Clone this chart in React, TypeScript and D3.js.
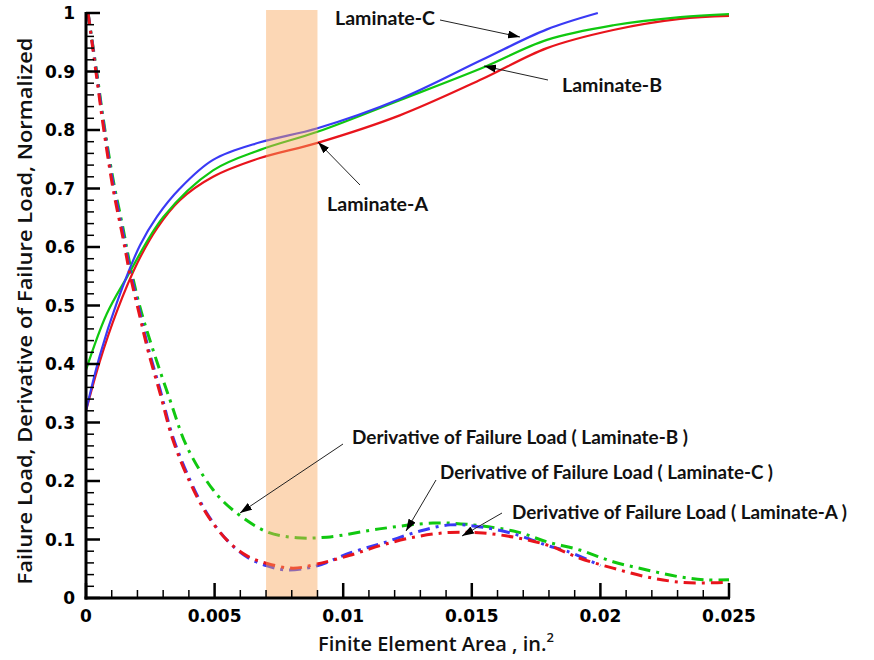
import React from 'react';
import * as d3 from 'd3';

// failure load, normalized (solid)
const failureA: [number, number][] = [
  [0, 0.32], [0.00054, 0.405], [0.0012, 0.49], [0.002, 0.573], [0.00276, 0.632], [0.00365, 0.68],
  [0.00494, 0.72], [0.00677, 0.752], [0.009, 0.778], [0.0122, 0.825],
  [0.0154, 0.887], [0.01792, 0.94], [0.0205, 0.971], [0.0231, 0.99], [0.025, 0.995],
];
const failureB: [number, number][] = [
  [0, 0.39], [0.0008, 0.485], [0.0016, 0.549], [0.003, 0.651], [0.00494, 0.731], [0.00677, 0.766],
  [0.009, 0.797], [0.0122, 0.851], [0.0154, 0.906],
  [0.01792, 0.954], [0.0205, 0.979], [0.0231, 0.993], [0.025, 0.998],
];
const failureC: [number, number][] = [
  [0, 0.32], [0.00054, 0.415], [0.0012, 0.505], [0.0021, 0.603], [0.00276, 0.652],
  [0.00365, 0.7], [0.00494, 0.749], [0.00677, 0.779], [0.009, 0.803],
  [0.0122, 0.853], [0.0154, 0.92], [0.01792, 0.972], [0.0199, 1.0],
];

// derivative of failure load (dash-dot)
const derivA: [number, number][] = [
  [0.00008, 1.0], [0.00043, 0.885], [0.00066, 0.81], [0.00105, 0.7], [0.00144, 0.615], [0.00171, 0.553],
  [0.0021, 0.48], [0.00241, 0.423], [0.00288, 0.35], [0.00338, 0.27], [0.00404, 0.198], [0.0047, 0.143],
  [0.00548, 0.099], [0.00626, 0.072], [0.00704, 0.059], [0.00805, 0.051], [0.00898, 0.058],
  [0.01026, 0.073], [0.01155, 0.091], [0.01287, 0.105], [0.01415, 0.112], [0.01544, 0.111],
  [0.01676, 0.103], [0.01804, 0.089], [0.0192, 0.068], [0.02049, 0.051], [0.02181, 0.036],
  [0.0231, 0.027], [0.02438, 0.026], [0.025, 0.027],
];
const derivB: [number, number][] = [
  [0.00008, 1.0], [0.00043, 0.895], [0.00066, 0.822], [0.00105, 0.716], [0.00144, 0.632], [0.00171, 0.57],
  [0.0021, 0.497], [0.00257, 0.429], [0.00327, 0.338], [0.00393, 0.258], [0.00494, 0.185],
  [0.00572, 0.15], [0.00704, 0.113], [0.0082, 0.103], [0.00937, 0.104], [0.01155, 0.119],
  [0.01349, 0.128], [0.01481, 0.126], [0.01676, 0.113], [0.01792, 0.096], [0.0192, 0.082],
  [0.02049, 0.062], [0.02181, 0.048], [0.0231, 0.036], [0.02414, 0.031], [0.025, 0.031],
];
const derivC: [number, number][] = [
  [0.00008, 1.0], [0.00043, 0.891], [0.00066, 0.817], [0.00105, 0.709], [0.00144, 0.624], [0.00171, 0.561],
  [0.0021, 0.487], [0.00241, 0.429], [0.00288, 0.356], [0.00338, 0.275], [0.00404, 0.202], [0.0047, 0.145],
  [0.00548, 0.099], [0.00626, 0.07], [0.00704, 0.055], [0.00781, 0.048], [0.00898, 0.055],
  [0.01026, 0.077], [0.01155, 0.094], [0.01287, 0.113], [0.01415, 0.125], [0.01544, 0.121],
  [0.01676, 0.108], [0.01792, 0.09], [0.0187, 0.08], [0.01987, 0.058], [0.02, 0.055],
];

const xTicks = [0, 0.005, 0.01, 0.015, 0.02, 0.025];
const xTickLabels = ['0', '0.005', '0.01', '0.015', '0.02', '0.025'];
const yTicks = [0, 0.1, 0.2, 0.3, 0.4, 0.5, 0.6, 0.7, 0.8, 0.9, 1];
const yTickLabels = ['0', '0.1', '0.2', '0.3', '0.4', '0.5', '0.6', '0.7', '0.8', '0.9', '1'];
const band = [0.007, 0.009];

const RED = '#e8141c';
const GREEN = '#10c810';
const BLUE = '#3a3af5';

const W = 874;
const H = 660;

export default function App() {
  const x = d3.scaleLinear().domain([0, 0.025]).range([86, 729]);
  const y = d3.scaleLinear().domain([0, 1]).range([598, 13]);
  const line = d3.line<[number, number]>()
    .x(d => x(d[0]))
    .y(d => y(d[1]))
    .curve(d3.curveCatmullRom.alpha(0.5));

  const xMinor = d3.range(0, 25).map(i => i * 0.001).filter(v => Math.round(v * 1000) % 5 !== 0);
  const yMinor = d3.range(0, 50).map(i => i * 0.02).filter(v => Math.round(v * 100) % 10 !== 0);

  const tickFont = { fontFamily: 'DejaVu Sans', fontWeight: 700, fontSize: 17 };
  const noteFont = { fontFamily: 'Lato', fontWeight: 700, fontSize: 19, fill: '#111' };

  const solids = [
    { d: failureA, c: RED },
    { d: failureB, c: GREEN },
    { d: failureC, c: BLUE },
  ];
  const dashes = [
    { d: derivB, c: GREEN },
    { d: derivC, c: BLUE },
    { d: derivA, c: RED },
  ];

  // annotations: text, text box, arrow start -> tip
  const notes = [
    { t: 'Laminate-C', x: 335, y: 25, w: 100, a: [440, 20, 520, 37] },
    { t: 'Laminate-B', x: 562, y: 92, w: 100, a: [548, 80, 484, 66] },
    { t: 'Laminate-A', x: 327, y: 211, w: 101, a: [360, 185, 318, 142] },
    { t: 'Derivative of Failure Load ( Laminate-B )', x: 352, y: 444, w: 336, a: [343, 444, 240, 513] },
    { t: 'Derivative of Failure Load ( Laminate-C )', x: 440, y: 479, w: 333, a: [436, 480, 406, 531] },
    { t: 'Derivative of Failure Load ( Laminate-A )', x: 512, y: 519, w: 335, a: [502, 513, 462, 536] },
  ];

  return (
    <svg width={W} height={H} style={{ position: 'absolute', left: 0, top: 0, background: '#fff' }}>
      <defs>
        <marker id="arrowhead" viewBox="0 0 12 8" refX={12} refY={4} markerWidth={12} markerHeight={8}
          orient="auto" markerUnits="userSpaceOnUse">
          <path d="M0,0 L12,4 L0,8 Z" fill="#000" />
        </marker>
      </defs>

      {solids.map((s, i) => (
        <path key={'s' + i} d={line(s.d) || ''} fill="none" stroke={s.c} strokeWidth={2.2} />
      ))}
      {dashes.map((s, i) => (
        <path key={'d' + i} d={line(s.d) || ''} fill="none" stroke={s.c} strokeWidth={3}
          strokeDasharray="12 6 3 6" />
      ))}

      <rect x={x(band[0])} y={10} width={x(band[1]) - x(band[0])} height={598 - 10}
        fill="#f9a65a" fillOpacity={0.45} />

      {/* axes */}
      {xMinor.map((v, i) => (
        <line key={'xm' + i} x1={x(v)} x2={x(v)} y1={598} y2={590} stroke="#000" strokeWidth={1.5} />
      ))}
      {xTicks.map((v, i) => (
        <line key={'xt' + i} x1={x(v)} x2={x(v)} y1={598} y2={583} stroke="#000" strokeWidth={2.5} />
      ))}
      {yMinor.map((v, i) => (
        <line key={'ym' + i} x1={86} x2={94} y1={y(v)} y2={y(v)} stroke="#000" strokeWidth={1.5} />
      ))}
      {yTicks.map((v, i) => (
        <line key={'yt' + i} x1={86} x2={100} y1={y(v)} y2={y(v)} stroke="#000" strokeWidth={2.5} />
      ))}
      <line x1={86} x2={86} y1={12} y2={599.5} stroke="#000" strokeWidth={3} />
      <line x1={84.5} x2={730} y1={598} y2={598} stroke="#000" strokeWidth={3} />

      {xTicks.map((v, i) => (
        <text key={'xl' + i} x={x(v)} y={622} textAnchor="middle" {...tickFont}>{xTickLabels[i]}</text>
      ))}
      {yTicks.map((v, i) => (
        <text key={'yl' + i} x={75} y={y(v) + 6} textAnchor="end" {...tickFont}>{yTickLabels[i]}</text>
      ))}

      <text transform="translate(32,311) rotate(-90)" textAnchor="middle" fontFamily="Open Sans" fontWeight={600}
        fontSize={20} fill="#111" textLength={547} lengthAdjust="spacingAndGlyphs">
        Failure Load, Derivative of Failure Load,  Normalized
      </text>
      <text x={318} y={651} fontFamily="Open Sans" fontWeight={600} fontSize={20} fill="#111">
        Finite Element Area , in.<tspan dy={-9} fontSize={13}>2</tspan>
      </text>

      {notes.map((n, i) => (
        <g key={'n' + i}>
          <line x1={n.a[0]} y1={n.a[1]} x2={n.a[2]} y2={n.a[3]} stroke="#222" strokeWidth={1}
            markerEnd="url(#arrowhead)" />
          <text x={n.x} y={n.y} {...noteFont} textLength={n.w} lengthAdjust="spacingAndGlyphs">{n.t}</text>
        </g>
      ))}
    </svg>
  );
}
